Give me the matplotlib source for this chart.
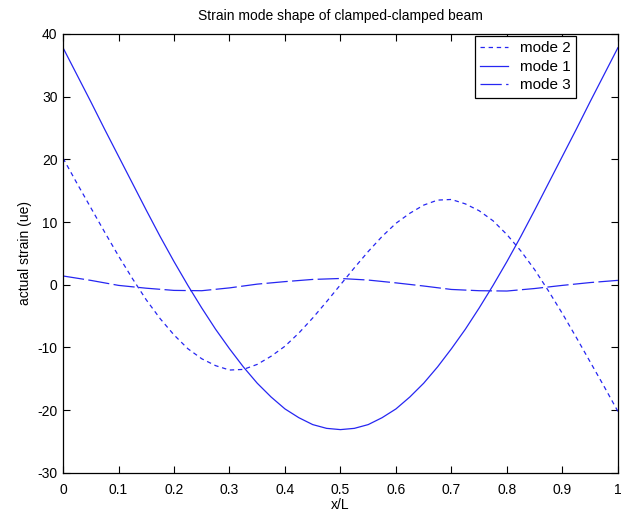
import matplotlib
matplotlib.use("Agg")
import matplotlib.pyplot as plt
import numpy as np

# values, x/L in steps of 0.025
xPos = [0, 0.025, 0.05, 0.075, 0.1, 0.125, 0.15, 0.175, 0.2, 0.225, 0.25,
        0.275, 0.3, 0.325, 0.35, 0.375, 0.4, 0.425, 0.45, 0.475, 0.5,
        0.525, 0.55, 0.575, 0.6, 0.625, 0.65, 0.675, 0.7, 0.725, 0.75,
        0.775, 0.8, 0.825, 0.85, 0.875, 0.9, 0.925, 0.95, 0.975, 1.0]

mode1 = [37.8, 33.5, 29.2, 24.8, 20.5, 16.2, 11.9, 7.7, 3.7, -0.1, -3.7,
         -7.1, -10.2, -13.1, -15.7, -17.9, -19.8, -21.2, -22.3, -22.9, -23.1,
         -22.9, -22.3, -21.2, -19.8, -17.9, -15.7, -13.1, -10.2, -7.1, -3.7,
         -0.1, 3.7, 7.7, 11.9, 16.2, 20.5, 24.8, 29.2, 33.5, 37.8]

mode2 = [20.2, 16.2, 12.3, 8.4, 4.6, 1.0, -2.4, -5.4, -8.0, -10.2, -11.8,
         -12.9, -13.6, -13.5, -12.7, -11.4, -9.8, -7.7, -5.3, -2.7, 0.0,
         2.7, 5.3, 7.7, 9.8, 11.4, 12.7, 13.5, 13.6, 12.9, 11.8,
         10.2, 8.0, 5.4, 2.4, -1.0, -4.6, -8.4, -12.3, -16.2, -20.2]

# mode 3 read at steps of 0.05
xPos3 = [0, 0.05, 0.1, 0.15, 0.2, 0.25, 0.3, 0.35, 0.4, 0.45, 0.5,
         0.55, 0.6, 0.65, 0.7, 0.75, 0.8, 0.85, 0.9, 0.95, 1.0]
mode3 = [1.4, 0.7, -0.1, -0.55, -0.9, -0.95, -0.5, 0.1, 0.5, 0.85, 1.0,
         0.75, 0.3, -0.2, -0.75, -0.95, -1.0, -0.6, -0.1, 0.35, 0.7]

xTicks = [0, 0.1, 0.2, 0.3, 0.4, 0.5, 0.6, 0.7, 0.8, 0.9, 1]
xTickLabels = ["0", "0.1", "0.2", "0.3", "0.4", "0.5", "0.6", "0.7", "0.8", "0.9", "1"]
yTicks = [-30, -20, -10, 0, 10, 20, 30, 40]

plt.rcParams['font.family'] = ['Liberation Sans', 'DejaVu Sans']
plt.rcParams['font.size'] = 10
plt.rcParams['axes.unicode_minus'] = False

fig = plt.figure(figsize=(6.27, 5.14), dpi=100)
ax = fig.add_axes([0.1005, 0.080, 0.885, 0.854])

lineColor = (0.15, 0.15, 0.95)
ax.plot(xPos, mode2, color=lineColor, lw=0.9, dashes=(3.5, 3), label="mode 2")
ax.plot(xPos, mode1, color=lineColor, lw=0.9, label="mode 1")
ax.plot(xPos3, mode3, color=lineColor, lw=0.9, dashes=(17, 3.5), label="mode 3")

ax.set_xlim(0, 1)
ax.set_ylim(-30, 40)
ax.set_xticks(xTicks)
ax.set_xticklabels(xTickLabels)
ax.set_yticks(yTicks)
ax.tick_params(direction='in', top=True, right=True, length=5, width=0.8)
ax.tick_params(axis='x', pad=7)
ax.tick_params(axis='y', pad=4)
for sp in ax.spines.values():
    sp.set_linewidth(0.9)

ax.set_title("Strain mode shape of clamped-clamped beam", fontsize=10, pad=10)
ax.set_xlabel("x/L", labelpad=1)
ax.set_ylabel("actual strain (ue)", labelpad=4)

leg = ax.legend(loc='upper right', bbox_to_anchor=(0.9243, 0.9954), borderaxespad=0,
                fancybox=False, edgecolor='black', framealpha=1, handlelength=1.85,
                labelspacing=0.3, borderpad=0.35, handletextpad=0.75,
                prop={'size': 11})
leg.get_frame().set_linewidth(0.9)

fig.savefig("out.png", dpi=100)
